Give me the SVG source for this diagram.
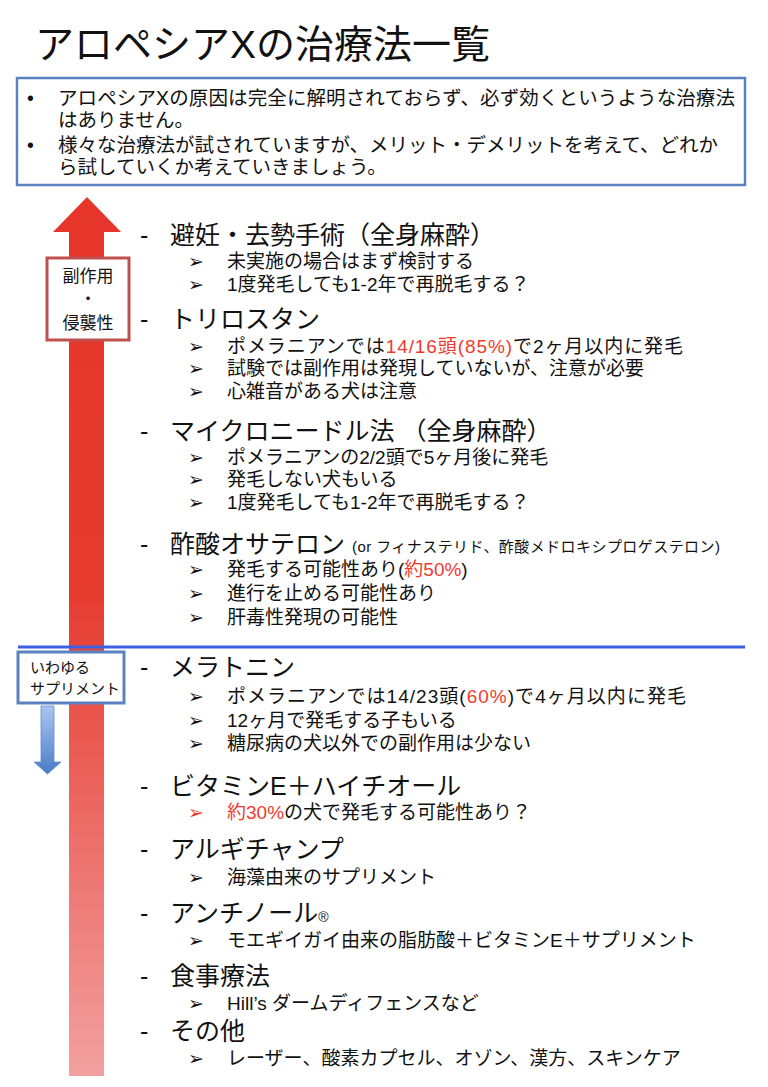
<svg xmlns="http://www.w3.org/2000/svg" width="768" height="1087" viewBox="0 0 768 1087">
<defs>
<linearGradient id="redGrad" x1="0" y1="197" x2="0" y2="1076" gradientUnits="userSpaceOnUse">
<stop offset="0" stop-color="#e6352a"/>
<stop offset="0.45" stop-color="#e63b2f"/>
<stop offset="1" stop-color="#f2a0a0"/>
</linearGradient>
<linearGradient id="blueGrad" x1="0" y1="706" x2="0" y2="774" gradientUnits="userSpaceOnUse">
<stop offset="0" stop-color="#aac6f2"/>
<stop offset="1" stop-color="#4a7bc6"/>
</linearGradient>
<style>
text{font-family:"Liberation Sans","Noto Sans CJK JP",sans-serif;fill:#111}
.title{font-size:39px}
.box{font-size:19.5px}
.h{font-size:25px}
.s{font-size:19px}
.small{font-size:15px}
.bul{font-family:"DejaVu Sans",sans-serif;font-size:19px;font-weight:bold}
.red{fill:#f23a2e}
.lbl{font-size:17px}
.lbl2{font-size:15px}
</style>
</defs>
<rect width="768" height="1087" fill="#ffffff"/>

<g id="title"><text class="title" x="35" y="58">アロペシアXの治療法一覧</text></g>

<g id="summary">
<rect x="17" y="78" width="728" height="107" fill="#fff" stroke="#5a82c0" stroke-width="2.5"/>
<text class="box" x="27" y="105">•</text>
<text class="box" x="58" y="105" textLength="677" lengthAdjust="spacing">アロペシアXの原因は完全に解明されておらず、必ず効くというような治療法</text>
<text class="box" x="58" y="127">はありません。</text>
<text class="box" x="27" y="152">•</text>
<text class="box" x="58" y="152" textLength="660" lengthAdjust="spacing">様々な治療法が試されていますが、メリット・デメリットを考えて、どれか</text>
<text class="box" x="58" y="174">ら試していくか考えていきましょう。</text>
</g>

<g id="arrows">
<path d="M69,232 L53,232 L87,197 L121,232 L104,232 L104,1076 L69,1076 Z" fill="url(#redGrad)"/>
<path d="M41,706 L54,706 L54,762 L61,762 L47.5,774 L34,762 L41,762 Z" fill="url(#blueGrad)" stroke="#5f8ccc" stroke-width="0.8"/>
</g>

<g id="divider"><line x1="18" y1="647" x2="745" y2="647" stroke="#3b5fe3" stroke-width="3"/></g>

<g id="label-invasive">
<rect x="47" y="258" width="82" height="82" fill="#fff" stroke="#c0504d" stroke-width="3"/>
<text class="lbl" x="88" y="282" text-anchor="middle">副作用</text>
<text class="lbl" x="88" y="305" text-anchor="middle">・</text>
<text class="lbl" x="88" y="329" text-anchor="middle">侵襲性</text>
</g>

<g id="label-supplement">
<rect x="18" y="652" width="106" height="51" fill="#fff" stroke="#5a82c0" stroke-width="3"/>
<text class="lbl2" x="30" y="673">いわゆる</text>
<text class="lbl2" x="30" y="694">サプリメント</text>
</g>

<g id="item-surgery">
<text class="h" x="140" y="244">-</text><text class="h" x="170" y="244">避妊・去勢手術（全身麻酔）</text>
<text class="bul" x="188" y="268">➢</text><text class="s" x="227" y="268">未実施の場合はまず検討する</text>
<text class="bul" x="188" y="291">➢</text><text class="s" x="227" y="291">1度発毛しても1-2年で再脱毛する？</text>
</g>

<g id="item-trilostane">
<text class="h" x="140" y="328">-</text><text class="h" x="170" y="328">トリロスタン</text>
<text class="bul" x="188" y="353">➢</text><text class="s" x="227" y="353" textLength="456" lengthAdjust="spacing">ポメラニアンでは<tspan class="red">14/16頭(85%)</tspan>で2ヶ月以内に発毛</text>
<text class="bul" x="188" y="375">➢</text><text class="s" x="227" y="375">試験では副作用は発現していないが、注意が必要</text>
<text class="bul" x="188" y="398">➢</text><text class="s" x="227" y="398">心雑音がある犬は注意</text>
</g>

<g id="item-microneedle">
<text class="h" x="140" y="440">-</text><text class="h" x="170" y="440">マイクロニードル法 （全身麻酔）</text>
<text class="bul" x="188" y="464">➢</text><text class="s" x="227" y="464">ポメラニアンの2/2頭で5ヶ月後に発毛</text>
<text class="bul" x="188" y="486">➢</text><text class="s" x="227" y="486">発毛しない犬もいる</text>
<text class="bul" x="188" y="509">➢</text><text class="s" x="227" y="509">1度発毛しても1-2年で再脱毛する？</text>
</g>

<g id="item-osaterone">
<text class="h" x="140" y="553">-</text><text class="h" x="170" y="553">酢酸オサテロン</text>
<text class="small" x="352" y="552" textLength="368" lengthAdjust="spacing">(or フィナステリド、酢酸メドロキシプロゲステロン)</text>
<text class="bul" x="188" y="576">➢</text><text class="s" x="227" y="576">発毛する可能性あり(<tspan class="red">約50%</tspan>)</text>
<text class="bul" x="188" y="600">➢</text><text class="s" x="227" y="600">進行を止める可能性あり</text>
<text class="bul" x="188" y="624">➢</text><text class="s" x="227" y="624">肝毒性発現の可能性</text>
</g>

<g id="item-melatonin">
<text class="h" x="140" y="676">-</text><text class="h" x="170" y="676">メラトニン</text>
<text class="bul" x="188" y="703">➢</text><text class="s" x="227" y="703" textLength="459" lengthAdjust="spacing">ポメラニアンでは14/23頭(<tspan class="red">60%</tspan>)で4ヶ月以内に発毛</text>
<text class="bul" x="188" y="727">➢</text><text class="s" x="227" y="727">12ヶ月で発毛する子もいる</text>
<text class="bul" x="188" y="750">➢</text><text class="s" x="227" y="750">糖尿病の犬以外での副作用は少ない</text>
</g>

<g id="item-vitamin">
<text class="h" x="140" y="795">-</text><text class="h" x="170" y="795">ビタミンE＋ハイチオール</text>
<text class="bul red" x="188" y="819">➢</text><text class="s" x="227" y="819"><tspan class="red">約30%</tspan>の犬で発毛する可能性あり？</text>
</g>

<g id="item-algichamp">
<text class="h" x="140" y="858">-</text><text class="h" x="170" y="858">アルギチャンプ</text>
<text class="bul" x="188" y="884">➢</text><text class="s" x="227" y="884">海藻由来のサプリメント</text>
</g>

<g id="item-antinol">
<text class="h" x="140" y="922">-</text><text class="h" x="170" y="922">アンチノール<tspan font-size="14px">®</tspan></text>
<text class="bul" x="188" y="947">➢</text><text class="s" x="227" y="947">モエギイガイ由来の脂肪酸＋ビタミンE＋サプリメント</text>
</g>

<g id="item-diet">
<text class="h" x="140" y="985">-</text><text class="h" x="170" y="985">食事療法</text>
<text class="bul" x="188" y="1010">➢</text><text class="s" x="227" y="1010">Hill’s ダームディフェンスなど</text>
</g>

<g id="item-other">
<text class="h" x="140" y="1040">-</text><text class="h" x="170" y="1040">その他</text>
<text class="bul" x="188" y="1065">➢</text><text class="s" x="227" y="1065">レーザー、酸素カプセル、オゾン、漢方、スキンケア</text>
</g>
</svg>
